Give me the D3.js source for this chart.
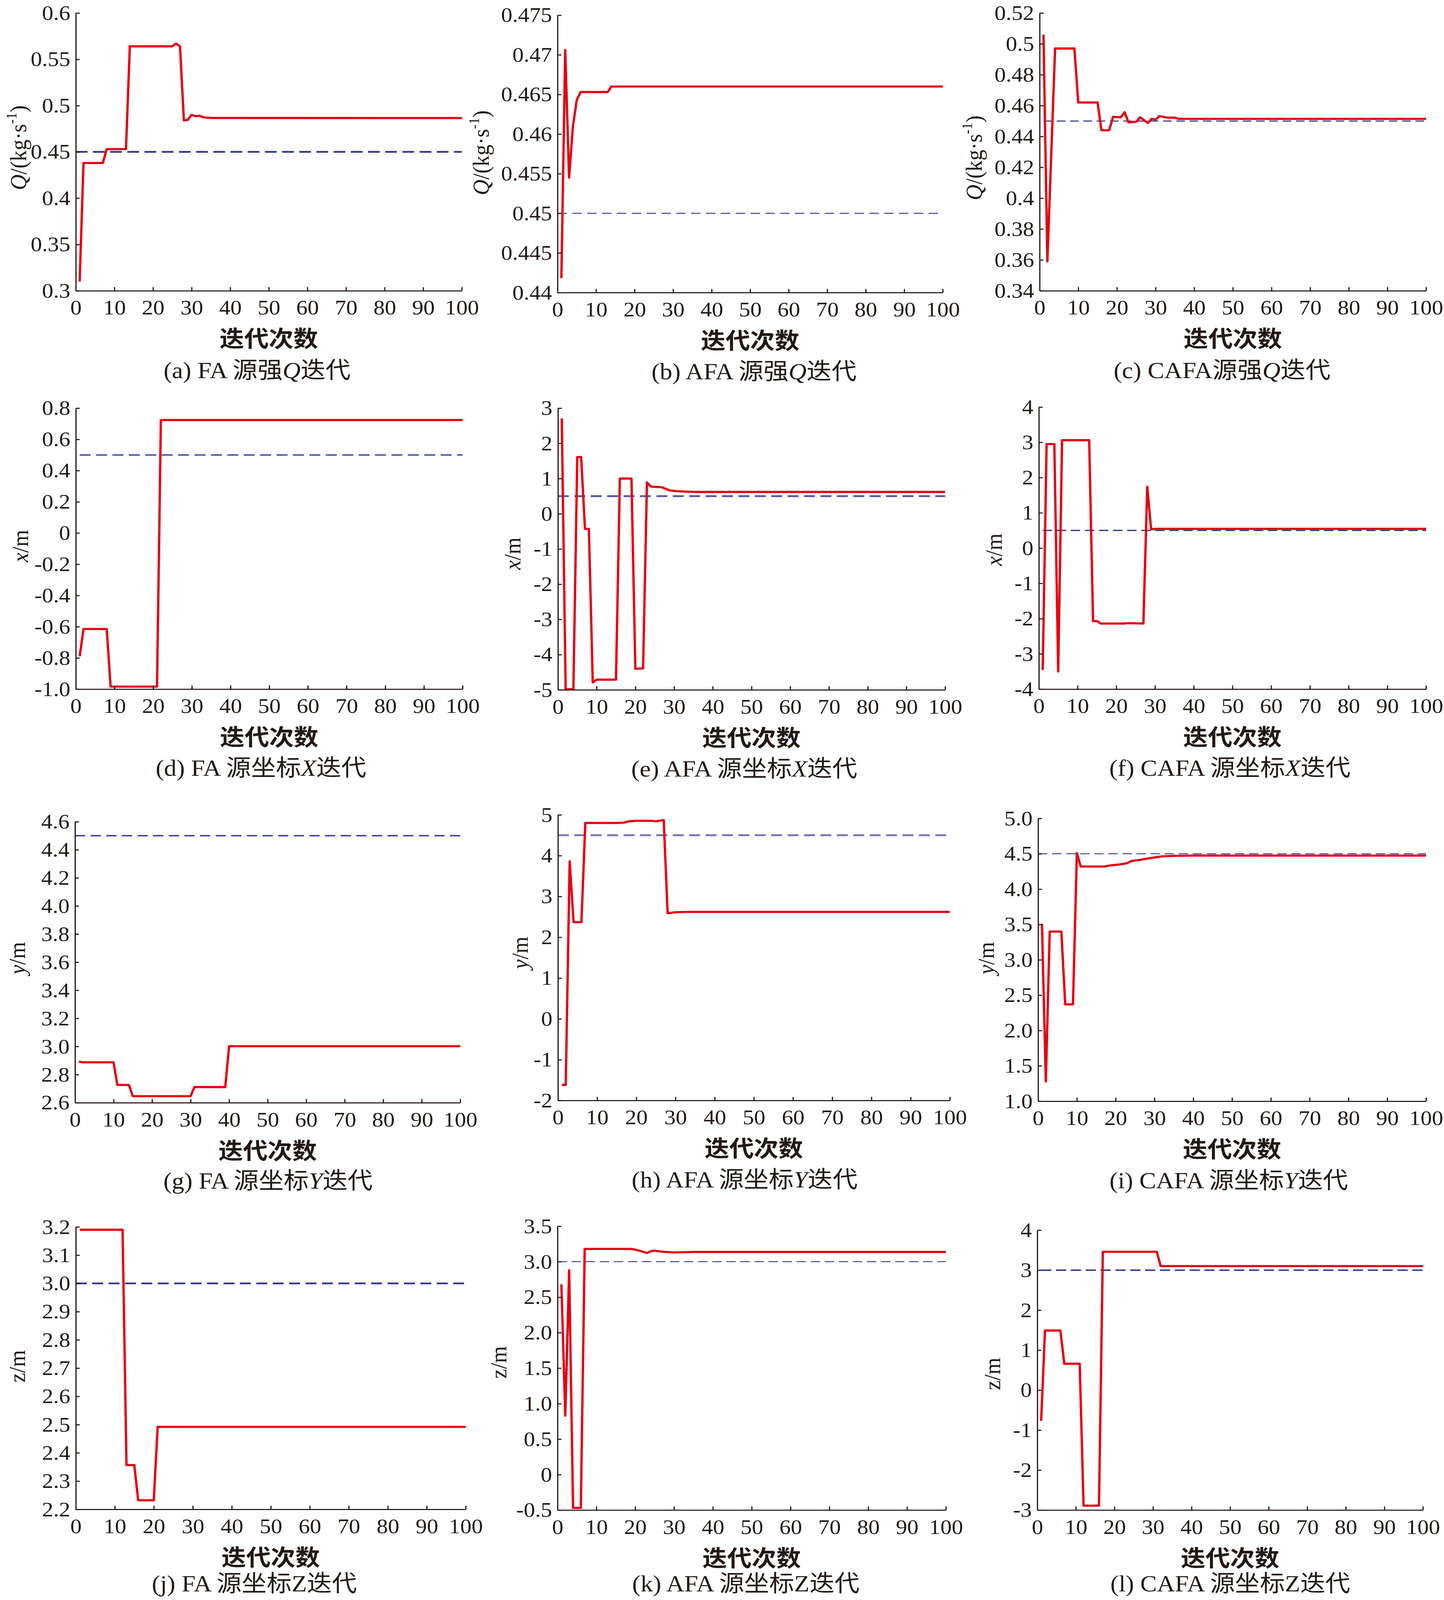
<!DOCTYPE html>
<html>
<head>
<meta charset="utf-8">
<script src="https://cdn.jsdelivr.net/npm/d3@7"></script>
<style>
html, body { margin: 0; padding: 0; background: #fff; overflow: hidden; }
svg { display: block; }
</style>
</head>
<body>
<script>
// iterations on the x axis
var xTicks = [0, 10, 20, 30, 40, 50, 60, 70, 80, 90, 100];

// series: [iteration, value]
var qFA = [[1,0.310],[2,0.438],[7,0.438],[8,0.453],[13,0.453],[14,0.564],[25,0.564],[26,0.567],[27,0.564],[28,0.484],[29,0.4845],[30,0.490],[31,0.4885],[32,0.489],[33,0.4874],[35,0.4866],[100,0.4865]];
var qAFA = [[1,0.4418],[2,0.4706],[3,0.4545],[4,0.461],[5,0.4643],[6,0.4653],[13,0.4653],[14,0.466],[100,0.466]];
var qCAFA = [[1,0.506],[2,0.359],[4,0.497],[9,0.497],[10,0.462],[15,0.462],[16,0.444],[18,0.444],[19,0.4527],[21,0.4524],[22,0.4557],[23,0.4491],[25,0.4495],[26,0.4524],[27,0.4506],[28,0.4487],[29,0.4515],[30,0.4508],[31,0.4532],[33,0.4522],[35,0.4522],[36,0.4514],[100,0.4514]];
var xFA = [[1,-0.79],[2,-0.615],[8,-0.615],[9,-0.984],[21,-0.984],[22,0.724],[100,0.724]];
var xAFA = [[1,2.71],[2,-4.98],[4,-4.98],[5,1.61],[6,1.61],[7,-0.43],[8,-0.43],[9,-4.79],[10,-4.71],[15,-4.71],[16,1.0],[19,1.0],[20,-4.40],[22,-4.39],[23,0.89],[24,0.77],[26,0.76],[27,0.75],[28,0.70],[29,0.66],[31,0.64],[33,0.628],[36,0.62],[100,0.62]];
var xCAFA = [[1,-3.46],[2,2.95],[4,2.95],[5,-3.5],[6,3.06],[13,3.06],[14,-2.07],[15,-2.07],[16,-2.14],[22,-2.14],[23,-2.13],[27,-2.14],[28,1.74],[29,0.53],[30,0.545],[100,0.545]];
var yFA = [[1,2.893],[2,2.887],[10,2.887],[11,2.726],[14,2.726],[15,2.646],[30,2.646],[31,2.711],[39,2.711],[40,3.002],[100,3.002]];
var yAFA = [[1,-1.62],[2,-1.62],[3,3.86],[4,2.37],[6,2.37],[7,4.80],[15,4.80],[17,4.81],[18,4.84],[20,4.853],[24,4.853],[25,4.84],[27,4.872],[28,2.59],[30,2.613],[33,2.62],[100,2.62]];
var yCAFA = [[1,3.51],[2,1.28],[3,3.40],[6,3.40],[7,2.37],[9,2.37],[10,4.51],[11,4.32],[17,4.32],[19,4.338],[21,4.349],[23,4.367],[24,4.397],[26,4.411],[28,4.43],[30,4.448],[32,4.463],[35,4.47],[40,4.475],[100,4.475]];
var zFA = [[1,3.19],[12,3.19],[13,2.357],[15,2.357],[16,2.232],[20,2.232],[21,2.492],[100,2.492]];
var zAFA = [[1,2.68],[2,0.83],[3,2.88],[4,-0.47],[6,-0.47],[7,3.18],[19,3.18],[20,3.17],[22,3.14],[23,3.122],[24,3.147],[25,3.155],[27,3.14],[30,3.13],[35,3.137],[100,3.137]];
var zCAFA = [[1,-0.77],[2,1.49],[6,1.49],[7,0.66],[11,0.66],[12,-2.89],[16,-2.89],[17,3.46],[31,3.46],[32,3.10],[100,3.10]];

// true source values (dashed lines) and where they start
var refValues = [0.45, 0.45, 0.45, 0.5, 0.5, 0.5, 4.5, 4.5, 4.5, 3, 3, 3];
var refStart = [0, 0, 1, 1, 0, 1, 0, 0, 0, 0, 0, 1];

// y tick labels
var tA = ["0.3","0.35","0.4","0.45","0.5","0.55","0.6"];
var tB = ["0.44","0.445","0.45","0.455","0.46","0.465","0.47","0.475"];
var tC = ["0.34","0.36","0.38","0.4","0.42","0.44","0.46","0.48","0.5","0.52"];
var tD = ["-1.0","-0.8","-0.6","-0.4","-0.2","0","0.2","0.4","0.6","0.8"];
var tE = ["-5","-4","-3","-2","-1","0","1","2","3"];
var tF = ["-4","-3","-2","-1","0","1","2","3","4"];
var tG = ["2.6","2.8","3.0","3.2","3.4","3.6","3.8","4.0","4.2","4.4","4.6"];
var tH = ["-2","-1","0","1","2","3","4","5"];
var tI = ["1.0","1.5","2.0","2.5","3.0","3.5","4.0","4.5","5.0"];
var tJ = ["2.2","2.3","2.4","2.5","2.6","2.7","2.8","2.9","3.0","3.1","3.2"];
var tK = ["-0.5","0","0.5","1.0","1.5","2.0","2.5","3.0","3.5"];
var tL = ["-3","-2","-1","0","1","2","3","4"];

var xTitle = "迭代次数";
// captions: [text, italic]
var captions = [
  [["(a) FA 源强",0],["Q",1],["迭代",0]],
  [["(b) AFA 源强",0],["Q",1],["迭代",0]],
  [["(c) CAFA源强",0],["Q",1],["迭代",0]],
  [["(d) FA 源坐标",0],["X",1],["迭代",0]],
  [["(e) AFA 源坐标",0],["X",1],["迭代",0]],
  [["(f) CAFA 源坐标",0],["X",1],["迭代",0]],
  [["(g) FA 源坐标",0],["Y",1],["迭代",0]],
  [["(h) AFA 源坐标",0],["Y",1],["迭代",0]],
  [["(i) CAFA 源坐标",0],["Y",1],["迭代",0]],
  [["(j) FA 源坐标Z迭代",0]],
  [["(k) AFA 源坐标Z迭代",0]],
  [["(l) CAFA 源坐标Z迭代",0]]
];
var yTitles = ["Q", "x", "y", "z"];

var series = [qFA, qAFA, qCAFA, xFA, xAFA, xCAFA, yFA, yAFA, yCAFA, zFA, zAFA, zCAFA];
var yTickSets = [tA, tB, tC, tD, tE, tF, tG, tH, tI, tJ, tK, tL];

// layout of each panel: plot box, y title centre, caption centre
var boxes = [
  {l:194, r:1182, t:36, b:805, lx:46, ly:409, cx:658, cy:1025},
  {l:1427, r:2413, t:42, b:810, lx:1230, ly:423, cx:1930, cy:1028},
  {l:2661, r:3650, t:36, b:805, lx:2492, ly:437, cx:3128, cy:1025},
  {l:194, r:1184, t:1130, b:1908, lx:51, ly:1512, cx:668, cy:2126},
  {l:1428, r:2419, t:1130, b:1910, lx:1311, ly:1533, cx:1905, cy:2128},
  {l:2659, r:3650, t:1127, b:1908, lx:2543, ly:1522, cx:3148, cy:2126},
  {l:192, r:1178, t:2275, b:3053, lx:43, ly:2653, cx:686, cy:3269},
  {l:1428, r:2431, t:2256, b:3047, lx:1330, ly:2638, cx:1906, cy:3266},
  {l:2657, r:3650, t:2266, b:3049, lx:2523, ly:2653, cx:3145, cy:3268},
  {l:194, r:1192, t:3397, b:4179, lx:43, ly:3783, cx:651, cy:4384},
  {l:1427, r:2421, t:3395, b:4181, lx:1275, ly:3772, cx:1909, cy:4384},
  {l:2655, r:3642, t:3406, b:4181, lx:2539, ly:3804, cx:3149, cy:4384}
];
// dashed line look per panel
var dashStyle = [
  {w:5, c:"#2b3a98", d:"30,14"},
  {w:3, c:"#4a4a9e", d:"24,14"},
  {w:3, c:"#2b3990", d:"22,12"},
  {w:5, c:"#6262b6", d:"28,14"},
  {w:5, c:"#4b58aa", d:"28,14"},
  {w:3.5, c:"#2b3990", d:"24,12"},
  {w:4, c:"#3a44a0", d:"26,14"},
  {w:5, c:"#7272c0", d:"28,14"},
  {w:2.5, c:"#2b3990", d:"24,12"},
  {w:5, c:"#2b3a98", d:"28,14"},
  {w:2.5, c:"#2b3990", d:"24,12"},
  {w:4, c:"#2b3990", d:"26,12"}
];

var ink = "#231815";
var serif = "'Liberation Serif', 'Noto Sans CJK SC', serif";

// drawn in a 3696 x 4430 frame, stretched to whatever the window really is
var svg = d3.select("body").append("svg")
    .attr("viewBox", "0 0 3696 4430")
    .attr("preserveAspectRatio", "none")
    .style("width", "100vw")
    .style("height", "100vh")
    .style("background", "#fff");

series.forEach(function(data, i) {
  var box = boxes[i];
  var labels = yTickSets[i];
  var vals = labels.map(function(s) { return +s; });

  var x = d3.scaleLinear().domain([0, 100]).range([box.l, box.r]);
  var y = d3.scaleLinear().domain([d3.min(vals), d3.max(vals)]).range([box.b, box.t]);

  var g = svg.append("g");

  // dashed true value
  g.append("line")
    .attr("x1", x(refStart[i]))
    .attr("x2", x(100))
    .attr("y1", y(refValues[i]))
    .attr("y2", y(refValues[i]))
    .attr("stroke", dashStyle[i].c)
    .attr("stroke-width", dashStyle[i].w)
    .attr("stroke-dasharray", dashStyle[i].d);

  // iteration curve
  var line = d3.line()
    .x(function(d) { return x(d[0]); })
    .y(function(d) { return y(d[1]); });

  g.append("path")
    .datum(data)
    .attr("d", line)
    .attr("fill", "none")
    .attr("stroke", "#e60012")
    .attr("stroke-width", 6)
    .attr("stroke-linejoin", "round");

  var xAxis = g.append("g")
    .attr("transform", "translate(0," + box.b + ")")
    .call(d3.axisBottom(x).tickValues(xTicks).tickSizeInner(-10).tickSizeOuter(0).tickPadding(25));

  var yAxis = g.append("g")
    .attr("transform", "translate(" + box.l + ",0)")
    .call(d3.axisLeft(y).tickValues(vals).tickFormat(function(d, k) { return labels[k]; })
      .tickSizeInner(-10).tickSizeOuter(0).tickPadding(14));

  [xAxis, yAxis].forEach(function(a) {
    a.attr("font-family", serif).attr("font-size", 58);
    a.select(".domain").attr("stroke", ink).attr("stroke-width", 3);
    a.selectAll(".tick line").attr("stroke", ink).attr("stroke-width", 3);
    a.selectAll(".tick text").attr("fill", ink);
  });

  // x title
  g.append("text")
    .attr("x", (box.l + box.r) / 2)
    .attr("y", box.b + 128)
    .attr("text-anchor", "middle")
    .attr("dominant-baseline", "central")
    .attr("font-family", "'Noto Sans CJK SC', sans-serif")
    .attr("font-weight", 700)
    .attr("font-size", 63)
    .attr("fill", ink)
    .text(xTitle);

  // y title
  var row = Math.floor(i / 3);
  var yt = g.append("text")
    .attr("transform", "translate(" + box.lx + "," + box.ly + ") rotate(-90)")
    .attr("text-anchor", "middle")
    .attr("dominant-baseline", "central")
    .attr("font-family", serif)
    .attr("font-size", 60)
    .attr("fill", ink);
  yt.append("tspan")
    .attr("font-style", row < 3 ? "italic" : "normal")
    .text(yTitles[row]);
  if (row === 0) {
    yt.append("tspan").text("/(kg·s");
    yt.append("tspan").attr("font-size", 38).attr("dy", -18).text("-1");
    yt.append("tspan").attr("dy", 18).text(")");
  } else {
    yt.append("tspan").text("/m");
  }

  // caption
  var cap = g.append("text")
    .attr("x", box.cx)
    .attr("y", box.cy)
    .attr("text-anchor", "middle")
    .attr("dominant-baseline", "central")
    .attr("font-family", serif)
    .attr("font-size", 64)
    .attr("fill", ink);
  captions[i].forEach(function(p) {
    cap.append("tspan")
      .attr("font-style", p[1] ? "italic" : "normal")
      .text(p[0]);
  });
});
</script>
</body>
</html>
